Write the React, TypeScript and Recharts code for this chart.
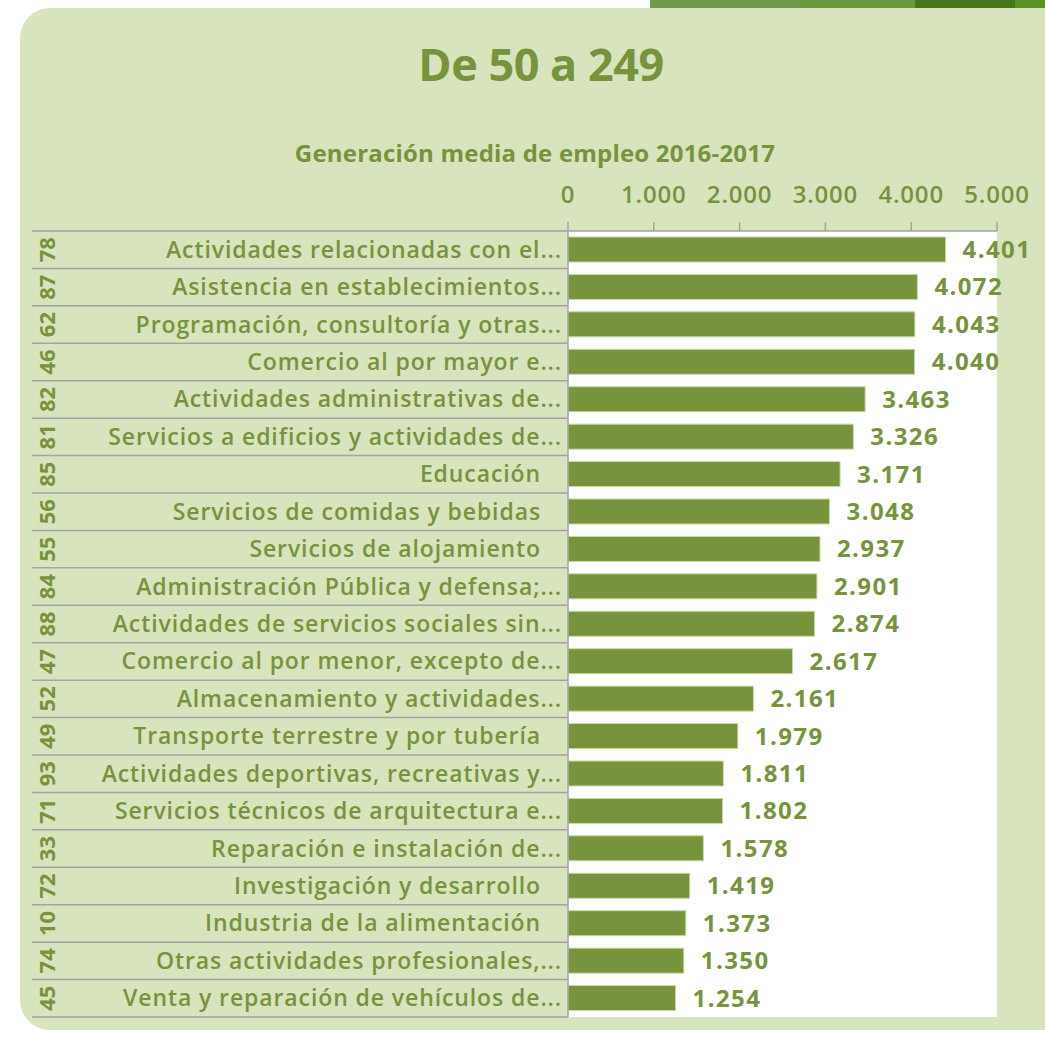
import { BarChart, Bar, XAxis, YAxis, CartesianGrid, LabelList } from 'recharts';

const codes = ['78', '87', '62', '46', '82', '81', '85', '56', '55', '84', '88', '47', '52', '49', '93', '71', '33', '72', '10', '74', '45'];

const sectors = [
  'Actividades relacionadas con el...',
  'Asistencia en establecimientos...',
  'Programación, consultoría y otras...',
  'Comercio al por mayor e...',
  'Actividades administrativas de...',
  'Servicios a edificios y actividades de...',
  'Educación',
  'Servicios de comidas y bebidas',
  'Servicios de alojamiento',
  'Administración Pública y defensa;...',
  'Actividades de servicios sociales sin...',
  'Comercio al por menor, excepto de...',
  'Almacenamiento y actividades...',
  'Transporte terrestre y por tubería',
  'Actividades deportivas, recreativas y...',
  'Servicios técnicos de arquitectura e...',
  'Reparación e instalación de...',
  'Investigación y desarrollo',
  'Industria de la alimentación',
  'Otras actividades profesionales,...',
  'Venta y reparación de vehículos de...',
];

const empleo = [4401, 4072, 4043, 4040, 3463, 3326, 3171, 3048, 2937, 2901, 2874, 2617, 2161, 1979, 1811, 1802, 1578, 1419, 1373, 1350, 1254];

const xTicks = [0, 1000, 2000, 3000, 4000, 5000];

const GREEN = '#77933c';
const LINE = '#a3a3a3';
const FONT = '"Open Sans", sans-serif';
const PLOT_TOP = 231;
const PLOT_BOTTOM = 1017;
const ROW_H = (PLOT_BOTTOM - PLOT_TOP) / sectors.length;

const fmt = (n: number) => String(n).replace(/\B(?=(\d{3})+(?!\d))/g, '.');

const data = sectors.map((name, i) => ({ name, code: codes[i], value: empleo[i] }));

const SectorTick = ({ y, payload, index }: any) => {
  const top = y - ROW_H / 2;
  const bottom = y + ROW_H / 2;
  const name: string = payload.value;
  // full names keep a trailing blank in the original, truncated ones end at the axis
  const textX = name.endsWith('...') ? 562 : 541;
  return (
    <g>
      {index === 0 && <line x1={32} x2={568} y1={top} y2={top} stroke={LINE} strokeWidth={1.5} />}
      <line x1={32} x2={568} y1={bottom} y2={bottom} stroke={LINE} strokeWidth={1.5} />
      <text
        x={textX}
        y={y}
        dy="0.35em"
        textAnchor="end"
        fill={GREEN}
        fontSize={23}
        fontWeight={600}
        fontFamily={FONT}
        letterSpacing={0.9}
      >
        {name}
      </text>
      <text
        x={0}
        y={0}
        transform={`translate(47, ${y}) rotate(-90)`}
        dy="0.36em"
        textAnchor="middle"
        fill={GREEN}
        fontSize={22}
        fontWeight={700}
        fontFamily={FONT}
      >
        {codes[index]}
      </text>
    </g>
  );
};

export default function App() {
  return (
    <div style={{ position: 'absolute', left: 0, top: 0, width: 1045, height: 1039, overflow: 'hidden', background: '#fff', fontFamily: FONT }}>
      {/* slide decoration peeking out at the top right */}
      <div style={{ position: 'absolute', left: 650, top: 0, width: 150, height: 12, background: '#6f9b4b' }} />
      <div style={{ position: 'absolute', left: 800, top: 0, width: 115, height: 12, background: '#689a3b' }} />
      <div style={{ position: 'absolute', left: 915, top: 0, width: 100, height: 12, background: '#46781a' }} />
      <div style={{ position: 'absolute', left: 1015, top: 0, width: 30, height: 12, background: '#5b9126' }} />
      <div style={{ position: 'absolute', left: 20, top: 8, width: 1070, height: 1022, borderRadius: 30, background: '#d8e4bd' }} />
      <div style={{ position: 'absolute', left: 0, width: 1082, top: 32, textAlign: 'center', color: GREEN, fontSize: 45, fontWeight: 700, lineHeight: '64px', letterSpacing: -0.5 }}>
        De 50 a 249
      </div>
      <div style={{ position: 'absolute', left: 0, width: 1070, top: 137, textAlign: 'center', color: GREEN, fontSize: 24, fontWeight: 700, lineHeight: '32px', letterSpacing: 0.2 }}>
        Generación media de empleo 2016-2017
      </div>
      <div style={{ position: 'absolute', left: 0, top: 0 }}>
        <BarChart
          width={1045}
          height={1039}
          data={data}
          layout="vertical"
          margin={{ top: 0, right: 48, bottom: 1039 - PLOT_BOTTOM, left: 0 }}
          barCategoryGap="16%"
        >
          <CartesianGrid fill="#ffffff" horizontal={false} vertical={false} />
          <XAxis
            type="number"
            orientation="top"
            domain={[0, 5000]}
            ticks={xTicks}
            tickFormatter={fmt}
            height={PLOT_TOP}
            tickSize={9}
            tickMargin={19}
            axisLine={{ stroke: LINE, strokeWidth: 1.5 }}
            tickLine={{ stroke: LINE, strokeWidth: 1.5 }}
            tick={{ fill: GREEN, fontSize: 24, fontWeight: 600, fontFamily: FONT, letterSpacing: 0.8 }}
          />
          <YAxis
            type="category"
            dataKey="name"
            width={568}
            tickLine={false}
            axisLine={{ stroke: LINE, strokeWidth: 1.5 }}
            tick={<SectorTick />}
            interval={0}
          />
          <Bar dataKey="value" fill={GREEN} stroke="#c9d9a8" strokeWidth={1} isAnimationActive={false}>
            <LabelList
              dataKey="value"
              position="right"
              offset={17}
              formatter={(v: any) => fmt(Number(v))}
              fill={GREEN}
              fontSize={24}
              fontWeight={700}
              fontFamily={FONT}
              letterSpacing={1.4}
            />
          </Bar>
        </BarChart>
      </div>
    </div>
  );
}
